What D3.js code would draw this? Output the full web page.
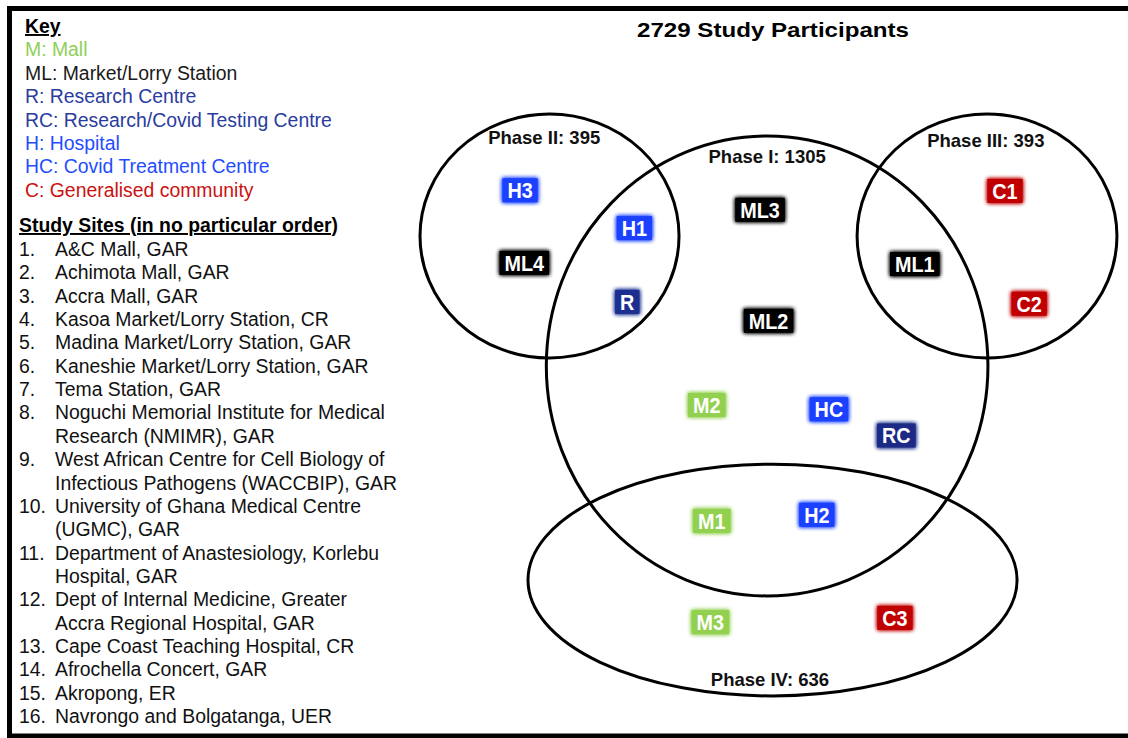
<!DOCTYPE html>
<html>
<head>
<meta charset="utf-8">
<script src="https://cdn.jsdelivr.net/npm/d3@7"></script>
<style>
  html, body { margin: 0; padding: 0; background: #fff; }
  svg { display: block; }
  .txt { font-family: "Liberation Sans", Arial, sans-serif; }
</style>
</head>
<body>
<svg id="chart" width="1128" height="738"></svg>
<script>
// Study phases and sites (Venn-style layout)

const keyLabels = ['M: Mall', 'ML: Market/Lorry Station', 'R: Research Centre',
  'RC: Research/Covid Testing Centre', 'H: Hospital', 'HC: Covid Treatment Centre',
  'C: Generalised community'];
const keyTypes = ['M', 'ML', 'R', 'RC', 'H', 'HC', 'C'];

const siteLines = [
  ['A&C Mall, GAR'],
  ['Achimota Mall, GAR'],
  ['Accra Mall, GAR'],
  ['Kasoa Market/Lorry Station, CR'],
  ['Madina Market/Lorry Station, GAR'],
  ['Kaneshie Market/Lorry Station, GAR'],
  ['Tema Station, GAR'],
  ['Noguchi Memorial Institute for Medical', 'Research (NMIMR), GAR'],
  ['West African Centre for Cell Biology of', 'Infectious Pathogens (WACCBIP), GAR'],
  ['University of Ghana Medical Centre', '(UGMC), GAR'],
  ['Department of Anastesiology, Korlebu', 'Hospital, GAR'],
  ['Dept of Internal Medicine, Greater', 'Accra Regional Hospital, GAR'],
  ['Cape Coast Teaching Hospital, CR'],
  ['Afrochella Concert, GAR'],
  ['Akropong, ER'],
  ['Navrongo and Bolgatanga, UER']
];

// phases: names, participant counts, ellipse centre/radii in diagram units (0-100)
const phaseNames = ['Phase I', 'Phase II', 'Phase III', 'Phase IV'];
const phaseCounts = [1305, 395, 393, 636];
const phaseCx = [50.3, 19.65, 81.27, 51.06];
const phaseCy = [43.6, 22.3, 22.3, 78.7];
const phaseRx = [31.1, 18.24, 18.3, 34.44];
const phaseRy = [37.7, 20.0, 20.0, 19.0];
const phaseLabelX = [50.3, 18.9, 81.1, 50.7];
const phaseLabelY = [10.3, 7.2, 7.7, 96.1];

// site badges: label, type, position in diagram units
const badgeLabels = ['H3', 'ML4', 'H1', 'R', 'ML3', 'ML2', 'ML1', 'C1', 'C2',
  'M2', 'HC', 'RC', 'M1', 'H2', 'M3', 'C3'];
const badgeTypes = ['H', 'ML', 'H', 'R', 'ML', 'ML', 'ML', 'C', 'C',
  'M', 'HC', 'RC', 'M', 'H', 'M', 'C'];
const badgeX = [15.5, 16.1, 31.6, 30.6, 49.3, 50.5, 71.1, 83.8, 87.2,
  41.8, 59.0, 68.5, 42.5, 57.3, 42.3, 68.3];
const badgeY = [14.8, 26.7, 21.0, 33.1, 18.0, 36.2, 26.9, 14.9, 33.4,
  50.0, 50.7, 55.0, 69.0, 68.0, 85.6, 84.9];

const totalParticipants = 2729;

const keyColor = {
  M: '#8fd058', ML: '#1a1a1a', R: '#2a3c9e', RC: '#2a3c9e',
  H: '#1f4dff', HC: '#1f4dff', C: '#cc1111'
};
const badgeColor = {
  M: '#92d050', ML: '#000000', R: '#1c2f8f', RC: '#1c2a85',
  H: '#1a40ff', HC: '#1a40ff', C: '#c00000'
};

const svg = d3.select('#chart');

// glow under the badge boxes
const defs = svg.append('defs');
const glow = defs.append('filter').attr('id', 'glow')
  .attr('x', '-30%').attr('y', '-40%').attr('width', '160%').attr('height', '180%');
glow.append('feGaussianBlur').attr('in', 'SourceGraphic').attr('stdDeviation', 2).attr('result', 'b');
glow.append('feMerge').call(m => {
  m.append('feMergeNode').attr('in', 'b');
  m.append('feMergeNode').attr('in', 'b');
  m.append('feMergeNode').attr('in', 'SourceGraphic');
});

// frame
svg.append('rect')
  .attr('x', 9.5).attr('y', 8.5)
  .attr('width', 1140).attr('height', 727.5)
  .attr('fill', 'none').attr('stroke', '#000').attr('stroke-width', 5);

// ---- left panel: key + study sites ----
const left = svg.append('g').attr('class', 'txt');
const fs = 19.4;
const lineH = 23.4;

left.append('text')
  .attr('x', 25).attr('y', 33)
  .attr('font-size', fs).attr('font-weight', 'bold')
  .attr('text-decoration', 'underline')
  .text('Key');

left.selectAll('text.key')
  .data(keyLabels)
  .enter()
  .append('text')
  .attr('class', 'key')
  .attr('x', 25)
  .attr('y', (d, i) => 33 + lineH * (i + 1))
  .attr('font-size', fs)
  .attr('fill', (d, i) => keyColor[keyTypes[i]])
  .text(d => d);

left.append('text')
  .attr('x', 19).attr('y', 232)
  .attr('font-size', fs).attr('font-weight', 'bold')
  .attr('text-decoration', 'underline')
  .text('Study Sites (in no particular order)');

let row = 0;
siteLines.forEach((lines, i) => {
  left.append('text')
    .attr('x', 19).attr('y', 256 + row * 23.35)
    .attr('font-size', fs).attr('fill', '#111')
    .text((i + 1) + '.');
  lines.forEach((ln, j) => {
    left.append('text')
      .attr('x', 55).attr('y', 256 + (row + j) * 23.35)
      .attr('font-size', fs).attr('fill', '#111')
      .text(ln);
  });
  row += lines.length;
});

// ---- diagram ----
const x = d3.scaleLinear().domain([0, 100]).range([410, 1120]);
const y = d3.scaleLinear().domain([0, 100]).range([100, 710]);
const kx = x(1) - x(0);
const ky = y(1) - y(0);

svg.append('text')
  .attr('class', 'txt')
  .attr('x', 773).attr('y', 37)
  .attr('text-anchor', 'middle')
  .attr('font-size', 21).attr('font-weight', 'bold')
  .attr('textLength', 272).attr('lengthAdjust', 'spacingAndGlyphs')
  .text(totalParticipants + ' Study Participants');

const phases = phaseNames.map((n, i) => ({
  name: n, count: phaseCounts[i],
  cx: phaseCx[i], cy: phaseCy[i], rx: phaseRx[i], ry: phaseRy[i],
  lx: phaseLabelX[i], ly: phaseLabelY[i]
}));

svg.append('g')
  .selectAll('ellipse')
  .data(phases)
  .enter()
  .append('ellipse')
  .attr('cx', d => x(d.cx))
  .attr('cy', d => y(d.cy))
  .attr('rx', d => d.rx * kx)
  .attr('ry', d => d.ry * ky)
  .attr('fill', 'none')
  .attr('stroke', '#000')
  .attr('stroke-width', 3);

svg.append('g')
  .selectAll('text')
  .data(phases)
  .enter()
  .append('text')
  .attr('class', 'txt')
  .attr('x', d => x(d.lx))
  .attr('y', d => y(d.ly))
  .attr('text-anchor', 'middle')
  .attr('font-size', 18.5)
  .attr('font-weight', 'bold')
  .attr('fill', '#111')
  .text(d => d.name + ': ' + d.count);

const badges = badgeLabels.map((l, i) => ({
  label: l, type: badgeTypes[i], x: badgeX[i], y: badgeY[i]
}));

const badge = svg.append('g')
  .selectAll('g')
  .data(badges)
  .enter()
  .append('g')
  .attr('transform', d => `translate(${x(d.x)},${y(d.y)})`);

const rects = badge.append('rect')
  .attr('fill', d => badgeColor[d.type])
  .attr('filter', 'url(#glow)');

// badge text is tall and slightly condensed
const squeeze = 0.9;
const labels = badge.append('text')
  .attr('class', 'txt')
  .attr('text-anchor', 'middle')
  .attr('transform', `scale(${squeeze},1)`)
  .attr('y', 7.8)
  .attr('font-size', 22)
  .attr('font-weight', 'bold')
  .attr('fill', '#fff')
  .text(d => d.label);

// size the boxes around their labels
labels.each(function(d) {
  d.w = this.getComputedTextLength() * squeeze;
});
rects
  .attr('x', d => -d.w / 2 - 5)
  .attr('y', -12)
  .attr('width', d => d.w + 10)
  .attr('height', 24);
</script>
</body>
</html>
